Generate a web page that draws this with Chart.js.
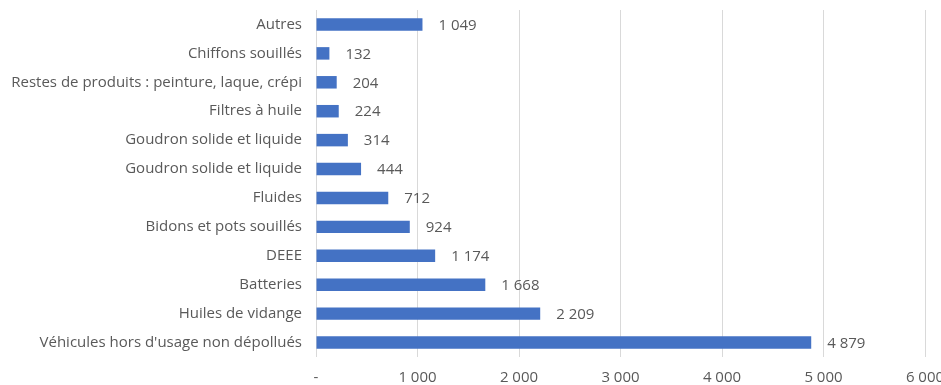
<!DOCTYPE html>
<html>
<head>
    <meta charset="utf-8">
    <title>Déchets</title>
    <script src="https://cdn.jsdelivr.net/npm/chart.js"></script>
    <style>
        html, body { margin: 0; padding: 0; background: #fff; }
        #wrap { width: 941px; height: 385px; }
    </style>
</head>
<body>
    <div id="wrap"><canvas id="barChart"></canvas></div>

    <script>
        // Categories, top to bottom
        const categories = [
            'Autres',
            'Chiffons souillés',
            'Restes de produits : peinture, laque, crépi',
            'Filtres à huile',
            'Goudron solide et liquide',
            'Goudron solide et liquide',
            'Fluides',
            'Bidons et pots souillés',
            'DEEE',
            'Batteries',
            'Huiles de vidange',
            "Véhicules hors d'usage non dépollués"
        ];
        const values = [1049, 132, 204, 224, 314, 444, 712, 924, 1174, 1668, 2209, 4879];

        const xMin = 0;
        const xMax = 6000;
        const xStep = 1000;

        function formatNumber(v) {
            if (v === 0) return '-';
            return String(v).replace(/\B(?=(\d{3})+(?!\d))/g, ' ');
        }

        const FONT = '"Open Sans", Lato, sans-serif';
        const TEXT = '#595959';

        // draws the value right of each bar
        const valueLabels = {
            id: 'valueLabels',
            afterDatasetsDraw(chart) {
                const ctx = chart.ctx;
                const meta = chart.getDatasetMeta(0);
                ctx.save();
                ctx.font = '15px ' + FONT;
                ctx.fillStyle = TEXT;
                ctx.textAlign = 'left';
                ctx.textBaseline = 'middle';
                meta.data.forEach((bar, i) => {
                    ctx.fillText(formatNumber(values[i]), bar.x + 16, bar.y + 1);
                });
                ctx.restore();
            }
        };

        const ctx = document.getElementById('barChart').getContext('2d');
        new Chart(ctx, {
            type: 'bar',
            data: {
                labels: categories,
                datasets: [{
                    data: values,
                    backgroundColor: '#4472C4',
                    barPercentage: 0.6,
                    categoryPercentage: 0.72
                }]
            },
            plugins: [valueLabels],
            options: {
                indexAxis: 'y',
                responsive: true,
                maintainAspectRatio: false,
                animation: false,
                layout: {
                    padding: { top: 10, right: 16, bottom: 0, left: 0 }
                },
                plugins: {
                    legend: { display: false },
                    tooltip: { enabled: false }
                },
                scales: {
                    x: {
                        min: xMin,
                        max: xMax,
                        ticks: {
                            stepSize: xStep,
                            padding: 12,
                            color: TEXT,
                            font: { family: FONT, size: 15 },
                            callback: v => formatNumber(v)
                        },
                        grid: {
                            color: '#d9d9d9',
                            drawTicks: false
                        },
                        border: { display: false },
                        afterFit: scale => {
                            scale.height = 28;
                            scale.paddingLeft = 0;
                            scale.paddingRight = 0;
                        }
                    },
                    y: {
                        ticks: {
                            padding: 14,
                            color: TEXT,
                            font: { family: FONT, size: 15 },
                            autoSkip: false
                        },
                        grid: { display: false, drawTicks: false },
                        border: { display: false },
                        afterFit: scale => {
                            scale.width = 316;
                            scale.paddingTop = 0;
                            scale.paddingBottom = 0;
                        }
                    }
                }
            }
        });
    </script>
</body>
</html>
